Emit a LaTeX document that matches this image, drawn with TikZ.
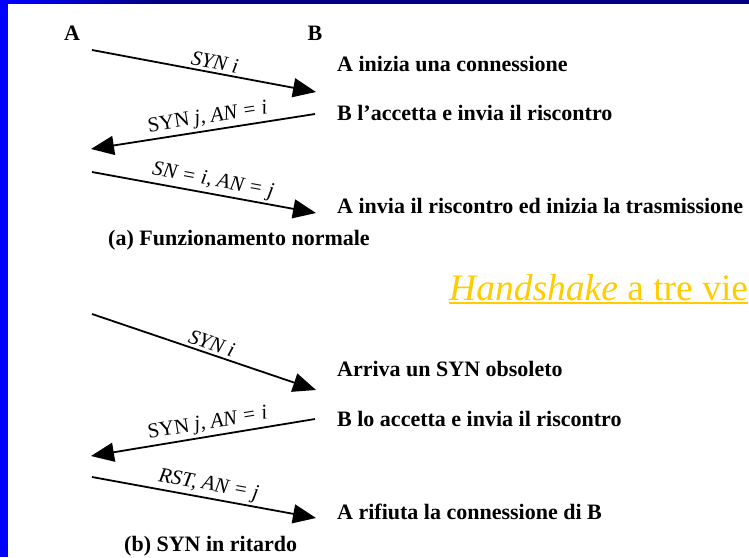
\documentclass[tikz,border=0pt]{standalone}
\usepackage{fontspec}
\setmainfont{Liberation Serif}
\usetikzlibrary{arrows.meta}
\definecolor{slideblue}{RGB}{0,0,255}
\definecolor{slidenavy}{RGB}{0,0,128}
\definecolor{titlegold}{RGB}{255,204,0}
\tikzstyle{msg} = [draw, line width=1.8pt, -{Triangle[length=23pt,width=19pt]}]
\tikzstyle{lbl} = [font=\fontsize{21}{23}\selectfont\itshape, inner sep=2.5pt, sloped, above]
\tikzstyle{txt} = [font=\fontsize{22}{26}\selectfont\bfseries, anchor=base west, inner sep=0pt]

\begin{document}
\begin{tikzpicture}[x=1pt,y=-1pt]
    \useasboundingbox (0,0) rectangle (749,557);
    \fill[slidenavy] (0,0) rectangle (749,557);
    \fill[slideblue] (0,0) rectangle (8,557);
    \shade[left color=slideblue, right color=slidenavy] (8,0) rectangle (160,4);
    \fill[white] (8,4) rectangle (749,557);
    % stations
    \node[txt, anchor=base] (A) at (72,40) {A};
    \node[txt, anchor=base] (B) at (315,40) {B};
    % (a) normal operation
    \coordinate (a1) at (92,50);  \coordinate (b1) at (316,92);
    \coordinate (b2) at (315,114); \coordinate (a2) at (91,149);
    \coordinate (a3) at (92,172); \coordinate (b3) at (316,213);
    \draw[msg] (a1) -- node[lbl, pos=0.54] {SYN i} (b1);
    \draw[msg] (b2) -- node[lbl, pos=0.47] {{\upshape SYN} j, AN = i} (a2);
    \draw[msg] (a3) -- node[lbl, pos=0.53] {SN = i, AN = j} (b3);
    \node[txt] (t1) at (337,71) {A inizia una connessione};
    \node[txt] (t2) at (337,120) {B l'accetta e invia il riscontro};
    \node[txt] (t3) at (337,213) {A invia il riscontro ed inizia la trasmissione};
    \node[txt] (capa) at (108,245) {(a) Funzionamento normale};
    % title
    \node[txt, font=\fontsize{37.5}{40}\selectfont, text=titlegold] (title) at (449,300) {\textit{Handshake} a tre vie};
    \draw[titlegold, line width=2pt] ([yshift=-3pt]title.base west) -- ([yshift=-3pt]title.base east);
    % (b) delayed SYN
    \coordinate (a4) at (92,314); \coordinate (b4) at (316,390);
    \coordinate (b5) at (315,419); \coordinate (a5) at (91,456);
    \coordinate (a6) at (92,477); \coordinate (b6) at (316,518);
    \draw[msg] (a4) -- node[lbl, pos=0.52] {SYN i} (b4);
    \draw[msg] (b5) -- node[lbl, pos=0.47] {{\upshape SYN} j, AN = i} (a5);
    \draw[msg] (a6) -- node[lbl, pos=0.51] {RST, AN = j} (b6);
    \node[txt] (t4) at (337,376) {Arriva un SYN obsoleto};
    \node[txt] (t5) at (337,426) {B lo accetta e invia il riscontro};
    \node[txt] (t6) at (337,519) {A rifiuta la connessione di B};
    \node[txt] (capb) at (124,551) {(b) SYN in ritardo};
\end{tikzpicture}
\end{document}
